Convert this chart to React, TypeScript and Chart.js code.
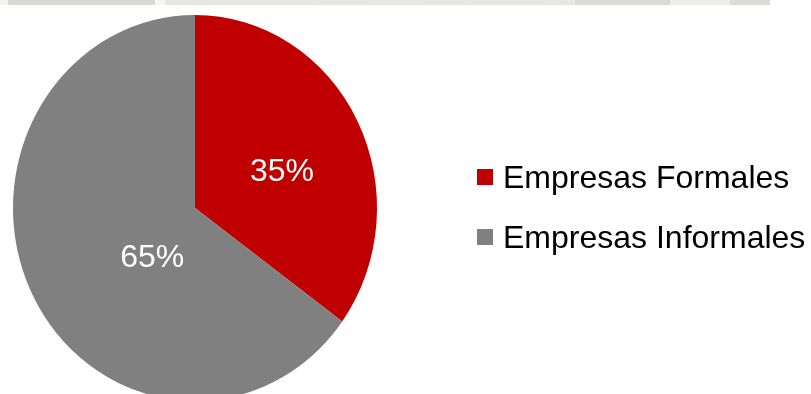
import React, { useEffect, useRef } from "react";
import { Chart, registerables } from "chart.js";

Chart.register(...registerables);

const categories: string[] = ["Empresas Formales", "Empresas Informales"];
const values: number[] = [35, 65];
const valueLabels: string[] = ["35%", "65%"];
const colors: string[] = ["#C00000", "#808080"];

// label placement tweaks (angle shift in radians, fraction of radius)
const labelShift: number[] = [0.095, -0.35];
const labelFrac: number[] = [0.514, 0.345];

const STRETCH_Y = 1.06;
const FONT = '"Liberation Sans", Arial, sans-serif';

export default function App() {
  const canvasRef = useRef<HTMLCanvasElement | null>(null);

  useEffect(() => {
    const canvas = canvasRef.current;
    if (!canvas) return;

    const stretchPlugin = {
      id: "stretchPie",
      beforeDatasetsDraw(chart: any) {
        const arc = chart.getDatasetMeta(0).data[0] as any;
        const ctx = chart.ctx;
        ctx.save();
        ctx.translate(arc.x, arc.y);
        ctx.scale(1, STRETCH_Y);
        ctx.translate(-arc.x, -arc.y);
      },
      afterDatasetsDraw(chart: any) {
        const ctx = chart.ctx;
        ctx.restore();
        const meta = chart.getDatasetMeta(0);
        ctx.save();
        ctx.fillStyle = "#ffffff";
        ctx.font = `32px ${FONT}`;
        ctx.textAlign = "center";
        ctx.textBaseline = "middle";
        meta.data.forEach((el: any, i: number) => {
          const p = el.getProps(["x", "y", "startAngle", "endAngle", "outerRadius"], true);
          const mid = (p.startAngle + p.endAngle) / 2 + labelShift[i];
          const r = p.outerRadius * labelFrac[i];
          const px = p.x + Math.cos(mid) * r;
          const py = p.y + Math.sin(mid) * r * STRETCH_Y;
          ctx.fillText(valueLabels[i], px, py + 1);
        });
        ctx.restore();
      },
    };

    const chart = new Chart(canvas, {
      type: "pie",
      data: {
        labels: categories,
        datasets: [
          {
            data: values,
            backgroundColor: colors,
            borderWidth: 0,
          },
        ],
      },
      options: {
        responsive: false,
        animation: false,
        devicePixelRatio: 1,
        layout: { padding: { left: 13, right: 434, top: 26, bottom: 4 } },
        plugins: {
          legend: { display: false },
          tooltip: { enabled: false },
        },
      },
      plugins: [stretchPlugin],
    });

    return () => chart.destroy();
  }, []);

  return (
    <div
      style={{
        position: "fixed",
        left: 0,
        top: 0,
        width: 811,
        height: 394,
        background: "#ffffff",
        overflow: "hidden",
      }}
    >
      <div
        style={{
          position: "absolute",
          left: 0,
          top: 0,
          width: 811,
          height: 5,
          background:
            "linear-gradient(to right, #f2f3f1 0px, #f2f3f1 8px, #d4d9d1 8px, #d4d9d1 155px, #f6f7f5 155px, #f6f7f5 165px, #e4e7e2 165px, #e6e8e4 575px, #d6dbd3 575px, #d6dbd3 670px, #eceeea 670px, #eceeea 730px, #d9ddd6 730px, #d9ddd6 770px, #ffffff 770px)",
        }}
      />
      <canvas
        ref={canvasRef}
        width={811}
        height={394}
        style={{ position: "absolute", left: 0, top: 0, width: 811, height: 394 }}
      />
      {categories.map((c, i) => (
        <div
          key={c}
          style={{
            position: "absolute",
            left: 477,
            top: 157 + i * 60,
            height: 40,
            display: "flex",
            alignItems: "center",
            fontFamily: FONT,
            fontSize: 32,
            lineHeight: "40px",
            color: "#000000",
            whiteSpace: "nowrap",
          }}
        >
          <span
            style={{
              display: "inline-block",
              width: 16,
              height: 16,
              background: colors[i],
              marginRight: 10,
            }}
          />
          <span>{c}</span>
        </div>
      ))}
    </div>
  );
}
